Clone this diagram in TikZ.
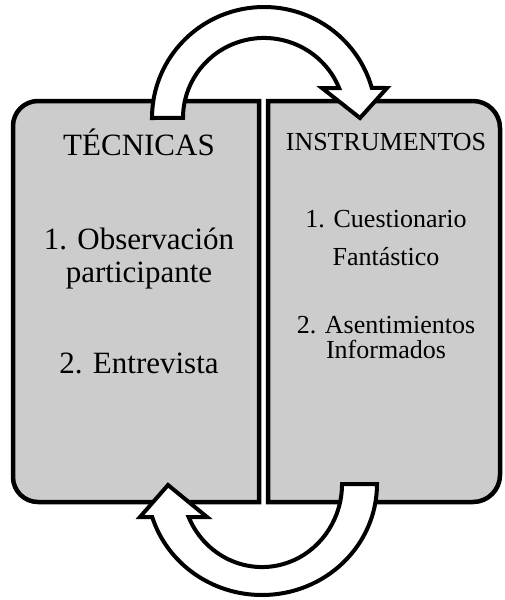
\documentclass[tikz,border=0pt]{standalone}
\usepackage{fontspec}
\setmainfont{Liberation Serif}
\begin{document}
\begin{tikzpicture}[x=1pt,y=1pt,
  panel/.style={fill=boxgray,draw=black,line width=4.5pt},
  cyclearrow/.style={fill=white,draw=black,line width=4pt,line join=miter},
  bigtxt/.style={inner sep=0pt,anchor=base,font=\fontsize{31}{33}\selectfont},
  smalltxt/.style={inner sep=0pt,anchor=base,font=\fontsize{26}{30}\selectfont}]
\definecolor{boxgray}{HTML}{CCCCCC}
\useasboundingbox (0,0) rectangle (505,-600);
% left panel
\draw[panel] (259,-101) -- (38,-101) arc[start angle=90,end angle=180,radius=25pt]
  -- (13,-477) arc[start angle=180,end angle=270,radius=25pt] -- (259,-502) -- cycle;
% right panel
\draw[panel] (268,-101) -- (473,-101) arc[start angle=90,end angle=0,radius=27pt]
  -- (500,-475) arc[start angle=0,end angle=-90,radius=27pt] -- (268,-502) -- cycle;
% top arrow
\draw[cyclearrow] (152,-118) arc[start angle=180,end angle=15.7,x radius=112pt,y radius=111pt]
  -- (387,-88) -- (360,-118) -- (322,-88) -- (339.1,-88)
  arc[start angle=22,end angle=180,x radius=81pt,y radius=80pt] -- cycle;
% bottom arrow
\draw[cyclearrow] (377,-484) arc[start angle=0,end angle=-162.7,x radius=115pt,y radius=111pt]
  -- (140,-517) -- (168,-485) -- (207,-517) -- (188.6,-517)
  arc[start angle=-156.6,end angle=0,x radius=80pt,y radius=83pt] -- cycle;
% texts left
\node[bigtxt] (tec) at (139,-155) {TÉCNICAS};
\node[bigtxt] (obs1) at (139,-249) {1. Observación};
\node[bigtxt] (obs2) at (139,-282) {participante};
\node[bigtxt] (ent) at (139,-373) {2. Entrevista};
% texts right
\node[smalltxt] (ins) at (386,-150) {INSTRUMENTOS};
\node[smalltxt] (cue1) at (386,-227) {1. Cuestionario};
\node[smalltxt] (cue2) at (386,-265) {Fantástico};
\node[smalltxt] (ase1) at (386,-333) {2. Asentimientos};
\node[smalltxt] (ase2) at (386,-358) {Informados};
\end{tikzpicture}
\end{document}
